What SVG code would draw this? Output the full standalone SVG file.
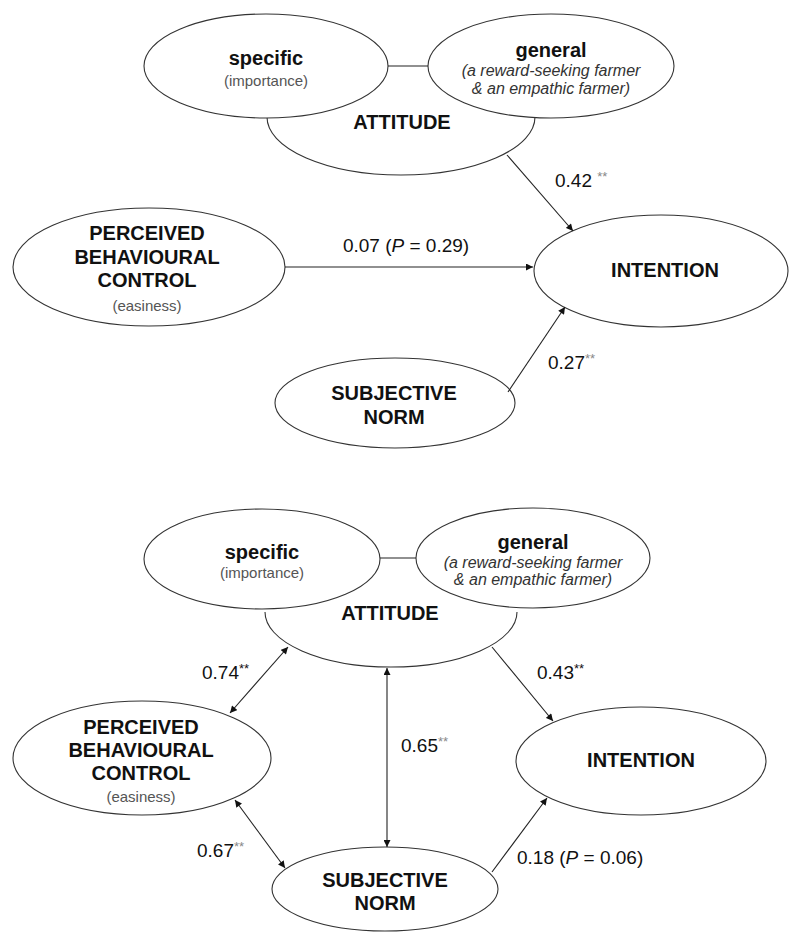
<svg xmlns="http://www.w3.org/2000/svg" width="789" height="933" viewBox="0 0 789 933">
<style>
.e{fill:#fff;stroke:#333;stroke-width:1.1}
.c{stroke:#222;stroke-width:1.1;fill:none}
.b{font-family:"Liberation Sans",Arial,sans-serif;font-weight:bold;font-size:20px;fill:#111;text-anchor:middle}
.s{font-family:"Liberation Sans",Arial,sans-serif;font-size:15px;fill:#555;text-anchor:middle}
.i{font-family:"Liberation Sans",Arial,sans-serif;font-style:italic;font-size:16px;fill:#333;text-anchor:middle}
.n{font-family:"Liberation Sans",Arial,sans-serif;font-size:19px;fill:#111}
.st{font-size:13px}
.g{fill:#888}
</style>
<defs>
<marker id="ah" viewBox="0 0 10 10" refX="10" refY="5" markerWidth="8" markerHeight="7" markerUnits="userSpaceOnUse" orient="auto-start-reverse">
<path d="M0,0 L10,5 L0,10 z" fill="#111"/>
</marker>
</defs>

<!-- TOP DIAGRAM -->
<g id="top-attitude">
<path class="e" d="M267,117 A134,58 0 0 0 535,117"/>
</g>
<g id="top-specific">
<ellipse class="e" cx="266" cy="66" rx="122" ry="52"/>
<text class="b" x="266" y="65">specific</text>
<text class="s" x="266" y="86">(importance)</text>
</g>
<g id="top-general">
<ellipse class="e" cx="551" cy="66" rx="123" ry="52"/>
<text class="b" x="551" y="57">general</text>
<text class="i" x="551" y="76">(a reward-seeking farmer</text>
<text class="i" x="551" y="94">&amp; an empathic farmer)</text>
</g>
<g id="top-attitude-label">
<text class="b" x="402" y="129">ATTITUDE</text>
</g>
<g id="top-pbc">
<ellipse class="e" cx="149" cy="267" rx="136" ry="59"/>
<text class="b" x="147" y="240">PERCEIVED</text>
<text class="b" x="147" y="264">BEHAVIOURAL</text>
<text class="b" x="147" y="287">CONTROL</text>
<text class="s" x="147" y="311">(easiness)</text>
</g>
<g id="top-intention">
<ellipse class="e" cx="661" cy="271" rx="127" ry="56"/>
<text class="b" x="665" y="277">INTENTION</text>
</g>
<g id="top-sn">
<ellipse class="e" cx="395" cy="403" rx="120" ry="45"/>
<text class="b" x="394" y="400">SUBJECTIVE</text>
<text class="b" x="394" y="424">NORM</text>
</g>

<!-- BOTTOM DIAGRAM -->
<g id="bot-attitude">
<path class="e" d="M265,612 A126,55 0 0 0 517,612"/>
</g>
<g id="bot-specific">
<ellipse class="e" cx="262" cy="559" rx="118" ry="50"/>
<text class="b" x="262" y="559">specific</text>
<text class="s" x="262" y="578">(importance)</text>
</g>
<g id="bot-general">
<ellipse class="e" cx="533" cy="558" rx="117" ry="50"/>
<text class="b" x="533" y="549">general</text>
<text class="i" x="533" y="568">(a reward-seeking farmer</text>
<text class="i" x="533" y="585">&amp; an empathic farmer)</text>
</g>
<g id="bot-attitude-label">
<text class="b" x="390" y="620">ATTITUDE</text>
</g>
<g id="bot-pbc">
<ellipse class="e" cx="142" cy="758" rx="129" ry="57"/>
<text class="b" x="141" y="734">PERCEIVED</text>
<text class="b" x="141" y="757">BEHAVIOURAL</text>
<text class="b" x="141" y="780">CONTROL</text>
<text class="s" x="141" y="802">(easiness)</text>
</g>
<g id="bot-intention">
<ellipse class="e" cx="641" cy="761" rx="125" ry="54"/>
<text class="b" x="641" y="767">INTENTION</text>
</g>
<g id="bot-sn">
<ellipse class="e" cx="385" cy="889" rx="113" ry="42"/>
<text class="b" x="385" y="887">SUBJECTIVE</text>
<text class="b" x="385" y="910">NORM</text>
</g>

<g id="connectors">
<line class="c" x1="388" y1="66" x2="428" y2="66"/>
<line class="c" x1="507" y1="155" x2="573" y2="231" marker-end="url(#ah)"/>
<line class="c" x1="285" y1="267" x2="533" y2="267" marker-end="url(#ah)"/>
<line class="c" x1="508" y1="392" x2="565" y2="307" marker-end="url(#ah)"/>

<line class="c" x1="380" y1="558" x2="416" y2="558"/>
<line class="c" x1="288" y1="647" x2="230" y2="713" marker-start="url(#ah)" marker-end="url(#ah)"/>
<line class="c" x1="492" y1="647" x2="553" y2="721" marker-end="url(#ah)"/>
<line class="c" x1="387" y1="668" x2="387" y2="847" marker-start="url(#ah)" marker-end="url(#ah)"/>
<line class="c" x1="235" y1="800" x2="285" y2="868" marker-start="url(#ah)" marker-end="url(#ah)"/>
<line class="c" x1="492" y1="872" x2="547" y2="798" marker-end="url(#ah)"/>
</g>

<g id="labels">
<text class="n" x="555" y="187">0.42 <tspan class="st g" dy="-6">**</tspan></text>
<text class="n" x="406" y="252" text-anchor="middle">0.07 (<tspan font-style="italic">P</tspan> = 0.29)</text>
<text class="n" x="548" y="369">0.27<tspan class="st g" dy="-6">**</tspan></text>

<text class="n" x="202" y="679">0.74<tspan class="st" dy="-6">**</tspan></text>
<text class="n" x="537" y="679">0.43<tspan class="st" dy="-6">**</tspan></text>
<text class="n" x="401" y="752">0.65<tspan class="st g" dy="-6">**</tspan></text>
<text class="n" x="197" y="857">0.67<tspan class="st g" dy="-6">**</tspan></text>
<text class="n" x="517" y="864">0.18 (<tspan font-style="italic">P</tspan> = 0.06)</text>
</g>
</svg>
